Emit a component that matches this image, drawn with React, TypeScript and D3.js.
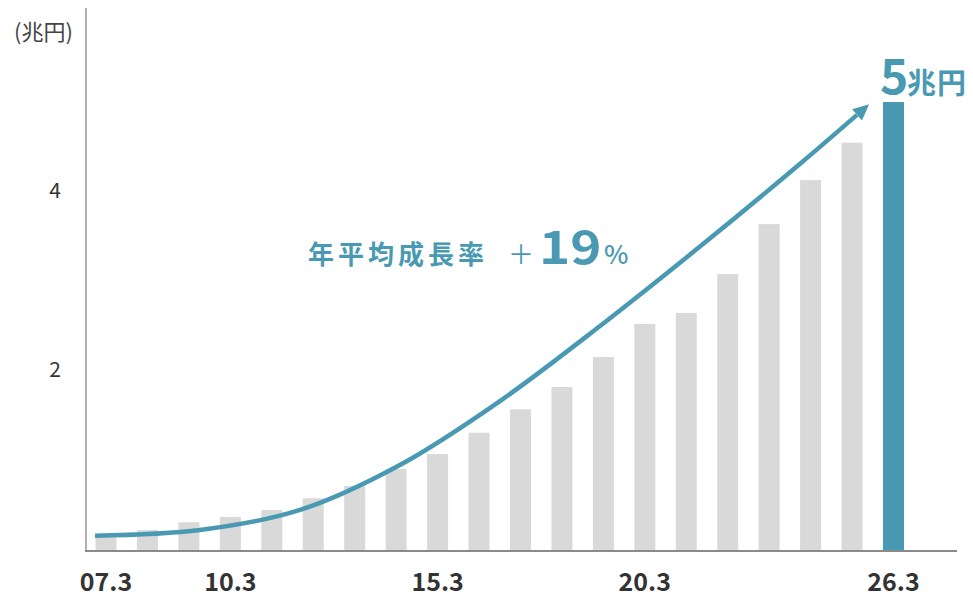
import React from "react";
import * as d3 from "d3";

const categories = [
  "07.3", "08.3", "09.3", "10.3", "11.3", "12.3", "13.3", "14.3", "15.3", "16.3",
  "17.3", "18.3", "19.3", "20.3", "21.3", "22.3", "23.3", "24.3", "25.3", "26.3",
];
const values = [
  0.16, 0.234, 0.32, 0.379, 0.457, 0.587, 0.724, 0.913, 1.08, 1.317,
  1.578, 1.826, 2.16, 2.528, 2.65, 3.085, 3.64, 4.13, 4.547, 5.0,
];
const shownXLabels = ["07.3", "10.3", "15.3", "20.3", "26.3"];
const yTicks = [2, 4];
// trend annotation curve: [category index, value]
const trendIdx = [-0.265, 2.268, 4.68, 7.09, 9.505, 11.92, 14.33, 16.74, 18.12];
const trendVal = [0.17, 0.234, 0.457, 0.958, 1.67, 2.506, 3.39, 4.31, 4.857];
const unitLabel = "(兆円)";
const growthLabel = "年平均成長率";
const growthPlus = "＋";
const growthValue = "19";
const growthPct = "%";
const finalValue = "5";
const finalUnit = "兆円";

const W = 973;
const H = 597;
const TEAL = "#4899b1";
const GREY = "#d9d9d9";
const FONT = "'Noto Sans CJK JP', 'Noto Sans', sans-serif";

export default function App() {
  const x = d3.scalePoint<string>().domain(categories).range([106, 893.5]);
  const xi = d3.scaleLinear().domain([0, categories.length - 1]).range([106, 893.5]);
  const y = d3.scaleLinear().domain([0, 5]).range([551, 102]);
  const barW = 21;

  const trend = trendIdx.map((d, i) => [d, trendVal[i]] as [number, number]);
  const line = d3
    .line<[number, number]>()
    .x((d) => xi(d[0]))
    .y((d) => y(d[1]))
    .curve(d3.curveCatmullRom.alpha(0.5));

  return (
    <svg
      width={W}
      height={H}
      style={{ position: "absolute", left: 0, top: 0, display: "block", background: "#fff" }}
      fontFamily={FONT}
    >
      <defs>
        <marker
          id="arrowHead"
          markerUnits="userSpaceOnUse"
          markerWidth={20}
          markerHeight={20}
          refX={0}
          refY={0}
          viewBox="0 -10 20 20"
          orient="auto"
        >
          <path d="M0,-7.5 L16,0 L0,7.5 Z" fill={TEAL} />
        </marker>
      </defs>

      {/* bars */}
      {categories.map((c, i) => (
        <rect
          key={c}
          x={(x(c) as number) - barW / 2}
          y={y(values[i])}
          width={barW}
          height={y(0) - y(values[i])}
          fill={i === categories.length - 1 ? TEAL : GREY}
        />
      ))}

      {/* axes */}
      <line x1={86} x2={86} y1={8} y2={y(0)} stroke="#b0b0b0" strokeWidth={2} />
      <line x1={85} x2={957} y1={y(0)} y2={y(0)} stroke="#8a8a8a" strokeWidth={2} />

      {/* y tick labels */}
      {yTicks.map((t) => (
        <text key={t} x={61} y={y(t) + 6} textAnchor="end" fontSize={21} fill="#333">
          {t}
        </text>
      ))}
      <text x={14} y={40} fontSize={22} fill="#444">
        {unitLabel}
      </text>

      {/* x tick labels */}
      {shownXLabels.map((l) => (
        <text
          key={l}
          x={x(l) as number}
          y={591}
          textAnchor="middle"
          fontSize={25}
          fontWeight={700}
          fill="#333"
        >
          {l}
        </text>
      ))}

      {/* trend curve */}
      <path
        d={line(trend) || ""}
        fill="none"
        stroke={TEAL}
        strokeWidth={4.5}
        markerEnd="url(#arrowHead)"
      />

      {/* growth annotation */}
      <text x={308} y={264} fontSize={26} fontWeight={700} fill={TEAL} letterSpacing={4}>
        {growthLabel}
      </text>
      <text x={508} y={264} fontSize={26} fontWeight={400} fill={TEAL}>
        {growthPlus}
      </text>
      <g transform="translate(539,264) scale(1.15,1)">
        <text x={0} y={0} fontSize={46} fontWeight={700} fill={TEAL}>
          {growthValue}
        </text>
      </g>
      <text x={604} y={264} fontSize={26} fontWeight={500} fill={TEAL}>
        {growthPct}
      </text>

      {/* final value label */}
      <text x={880} y={94} fontSize={48} fontWeight={700} fill={TEAL}>
        {finalValue}
      </text>
      <text x={907} y={94} fontSize={29} fontWeight={700} fill={TEAL} letterSpacing={1}>
        {finalUnit}
      </text>
    </svg>
  );
}
